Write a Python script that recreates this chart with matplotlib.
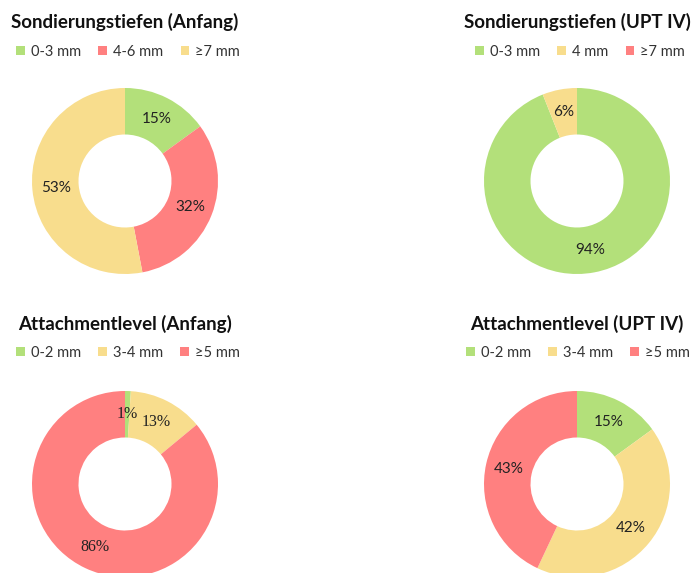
import matplotlib
matplotlib.use("Agg")
import matplotlib.pyplot as plt
from matplotlib.patches import Patch

plt.rcParams['font.family'] = ['Lato', 'DejaVu Sans']

GREEN = '#B3E07A'
RED = '#FF8080'
YELLOW = '#F8DD8D'

# Data
titles = ["Sondierungstiefen (Anfang)", "Sondierungstiefen (UPT IV)",
          "Attachmentlevel (Anfang)", "Attachmentlevel (UPT IV)"]
cats_tl = ["0-3 mm", "4-6 mm", "≥7 mm"]
vals_tl = [15, 32, 53]
cats_tr = ["0-3 mm", "4 mm", "≥7 mm"]
vals_tr = [94, 6, 0]
cats_bl = ["0-2 mm", "3-4 mm", "≥5 mm"]
vals_bl = [1, 13, 86]
cats_br = ["0-2 mm", "3-4 mm", "≥5 mm"]
vals_br = [15, 42, 43]

W, H = 694, 573
fig = plt.figure(figsize=(W / 100, H / 100), dpi=100)

panels = [
    (titles[0], cats_tl, vals_tl, [GREEN, RED, YELLOW], 125, 181, 22, 52, 128, 'Lato'),
    (titles[1], cats_tr, vals_tr, [GREEN, YELLOW, RED], 577, 181, 22, 52, 580, 'Lato'),
    (titles[2], cats_bl, vals_bl, [GREEN, YELLOW, RED], 125, 484, 324, 353, 128, 'Liberation Serif'),
    (titles[3], cats_br, vals_br, [GREEN, YELLOW, RED], 577, 484, 324, 353, 578, 'Lato'),
]

R = 93
for title, cats, vals, cols, cx, cy, ty, ly, lx, lblfont in panels:
    ax = fig.add_axes([(cx - R) / W, (H - cy - R) / H, 2 * R / W, 2 * R / H])
    wedges, texts, autotexts = ax.pie(
        vals, colors=cols, startangle=90, counterclock=False,
        wedgeprops=dict(width=0.5, edgecolor='none'),
        autopct=lambda p: f"{p:.0f}%" if p > 0 else "",
        pctdistance=0.75, radius=1.0)
    for t in autotexts:
        t.set_fontsize(11 if lblfont == 'Lato' else 11.5)
        t.set_color('#222222')
        t.set_fontfamily([lblfont, 'DejaVu Sans'])
    ax.set_xlim(-1, 1)
    ax.set_ylim(-1, 1)
    ax.set_aspect('equal')
    ax.axis('off')
    for w in wedges:
        w.set_clip_on(False)

    fig.text(cx / W, 1 - ty / H, title, ha='center', va='center',
             fontsize=13.5, fontweight='bold', color='#111111')
    handles = [Patch(facecolor=c, edgecolor='none') for c in cols]
    fig.legend(handles, cats, loc='center', bbox_to_anchor=(lx / W, 1 - ly / H),
               ncol=3, frameon=False, fontsize=10.5, handlelength=0.6,
               handleheight=0.6, handletextpad=0.4, columnspacing=1.2,
               labelcolor='#333333', borderpad=0, borderaxespad=0)

fig.savefig("out.png", dpi=100, facecolor='white')
